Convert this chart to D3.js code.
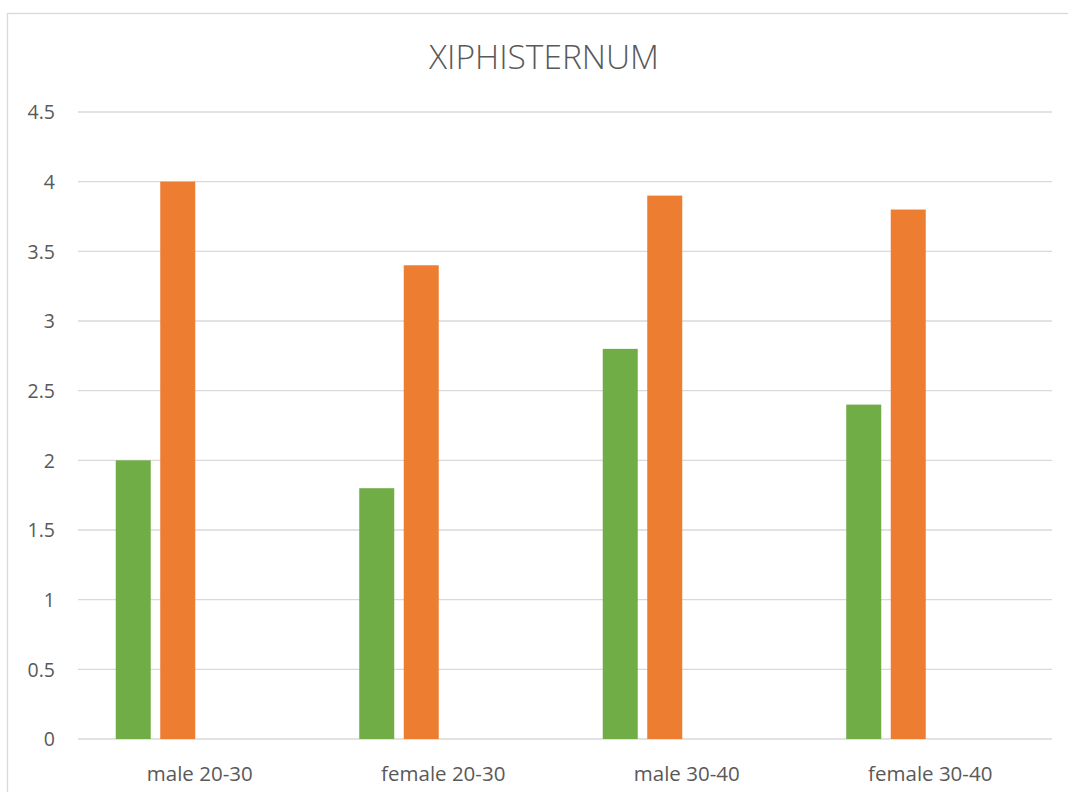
<!DOCTYPE html>
<html>
<head>
<meta charset="utf-8">
<script src="https://cdn.jsdelivr.net/npm/d3@7"></script>
<style>
  html, body { margin: 0; padding: 0; background: #ffffff; }
  svg { display: block; }
  text { font-family: "Open Sans", "Noto Sans", sans-serif; fill: #595959; }
</style>
</head>
<body>
<svg id="chart" width="1068" height="792"></svg>
<script>
// Chart data
const title = "XIPHISTERNUM";
const categories = ["male 20-30", "female 20-30", "male 30-40", "female 30-40"];
const seriesSlots = ["Series1", "Series2", "Series3", "Series4"]; // last two are empty slots
const series1 = [2, 1.8, 2.8, 2.4];
const series2 = [4, 3.4, 3.9, 3.8];
const yTicks = [0, 0.5, 1, 1.5, 2, 2.5, 3, 3.5, 4, 4.5];

const seriesColors = { Series1: "#70AD47", Series2: "#ED7D31" };
const series = [
  { name: "Series1", values: series1 },
  { name: "Series2", values: series2 }
];

const svg = d3.select("#chart");
const W = 1068, H = 792;
const plot = { left: 78, right: 1052, top: 112, bottom: 739 };

// Chart area frame (extends past the bottom/right of the view)
svg.append("rect")
  .attr("x", 7.5).attr("y", 13.5)
  .attr("width", W + 20).attr("height", H + 20)
  .attr("fill", "#ffffff")
  .attr("stroke", "#D9D9D9").attr("stroke-width", 1.3);

// Scales
const x = d3.scaleBand().domain(categories).range([plot.left, plot.right]).padding(0);
const y = d3.scaleLinear().domain([0, 4.5]).range([plot.bottom, plot.top]);

const groupStart = x.bandwidth() * 0.155;
const groupWidth = x.bandwidth() * 0.692;
const xs = d3.scaleBand().domain(seriesSlots)
  .range([groupStart, groupStart + groupWidth])
  .paddingInner(0.2135).paddingOuter(0);

// Gridlines
svg.append("g")
  .selectAll("line")
  .data(yTicks)
  .join("line")
  .attr("x1", plot.left).attr("x2", plot.right)
  .attr("y1", d => y(d)).attr("y2", d => y(d))
  .attr("stroke", "#D9D9D9").attr("stroke-width", 1.3);

// Y axis labels
const yAxis = d3.axisLeft(y).tickValues(yTicks).tickSize(0).tickPadding(0)
  .tickFormat(d3.format("~g"));
svg.append("g")
  .attr("transform", `translate(${plot.left - 23},0)`)
  .call(yAxis)
  .call(g => g.select(".domain").remove())
  .call(g => g.selectAll("text")
    .attr("font-size", 19.5)
    .attr("fill", "#595959")
    .attr("font-family", "'Open Sans', sans-serif")
    .attr("dy", "0.35em"));

// Bars
const groups = svg.append("g")
  .selectAll("g")
  .data(series)
  .join("g")
  .attr("fill", d => seriesColors[d.name]);

groups.selectAll("rect")
  .data(d => d.values.map((v, i) => ({ name: d.name, cat: categories[i], value: v })))
  .join("rect")
  .attr("x", d => x(d.cat) + xs(d.name))
  .attr("width", xs.bandwidth())
  .attr("y", d => y(d.value))
  .attr("height", d => y(0) - y(d.value));

// Category labels
const xAxis = d3.axisBottom(x).tickSize(0).tickPadding(0);
svg.append("g")
  .attr("transform", `translate(0,${plot.bottom})`)
  .call(xAxis)
  .call(g => g.select(".domain").remove())
  .call(g => g.selectAll("text")
    .attr("font-size", 20.5)
    .attr("fill", "#595959")
    .attr("font-family", "'Open Sans', sans-serif")
    .attr("y", 41.5)
    .attr("dy", 0));

// Title
svg.append("text")
  .attr("x", 544)
  .attr("y", 68.5)
  .attr("text-anchor", "middle")
  .attr("font-size", 33.5)
  .attr("font-weight", 300)
  .text(title);
</script>
</body>
</html>
